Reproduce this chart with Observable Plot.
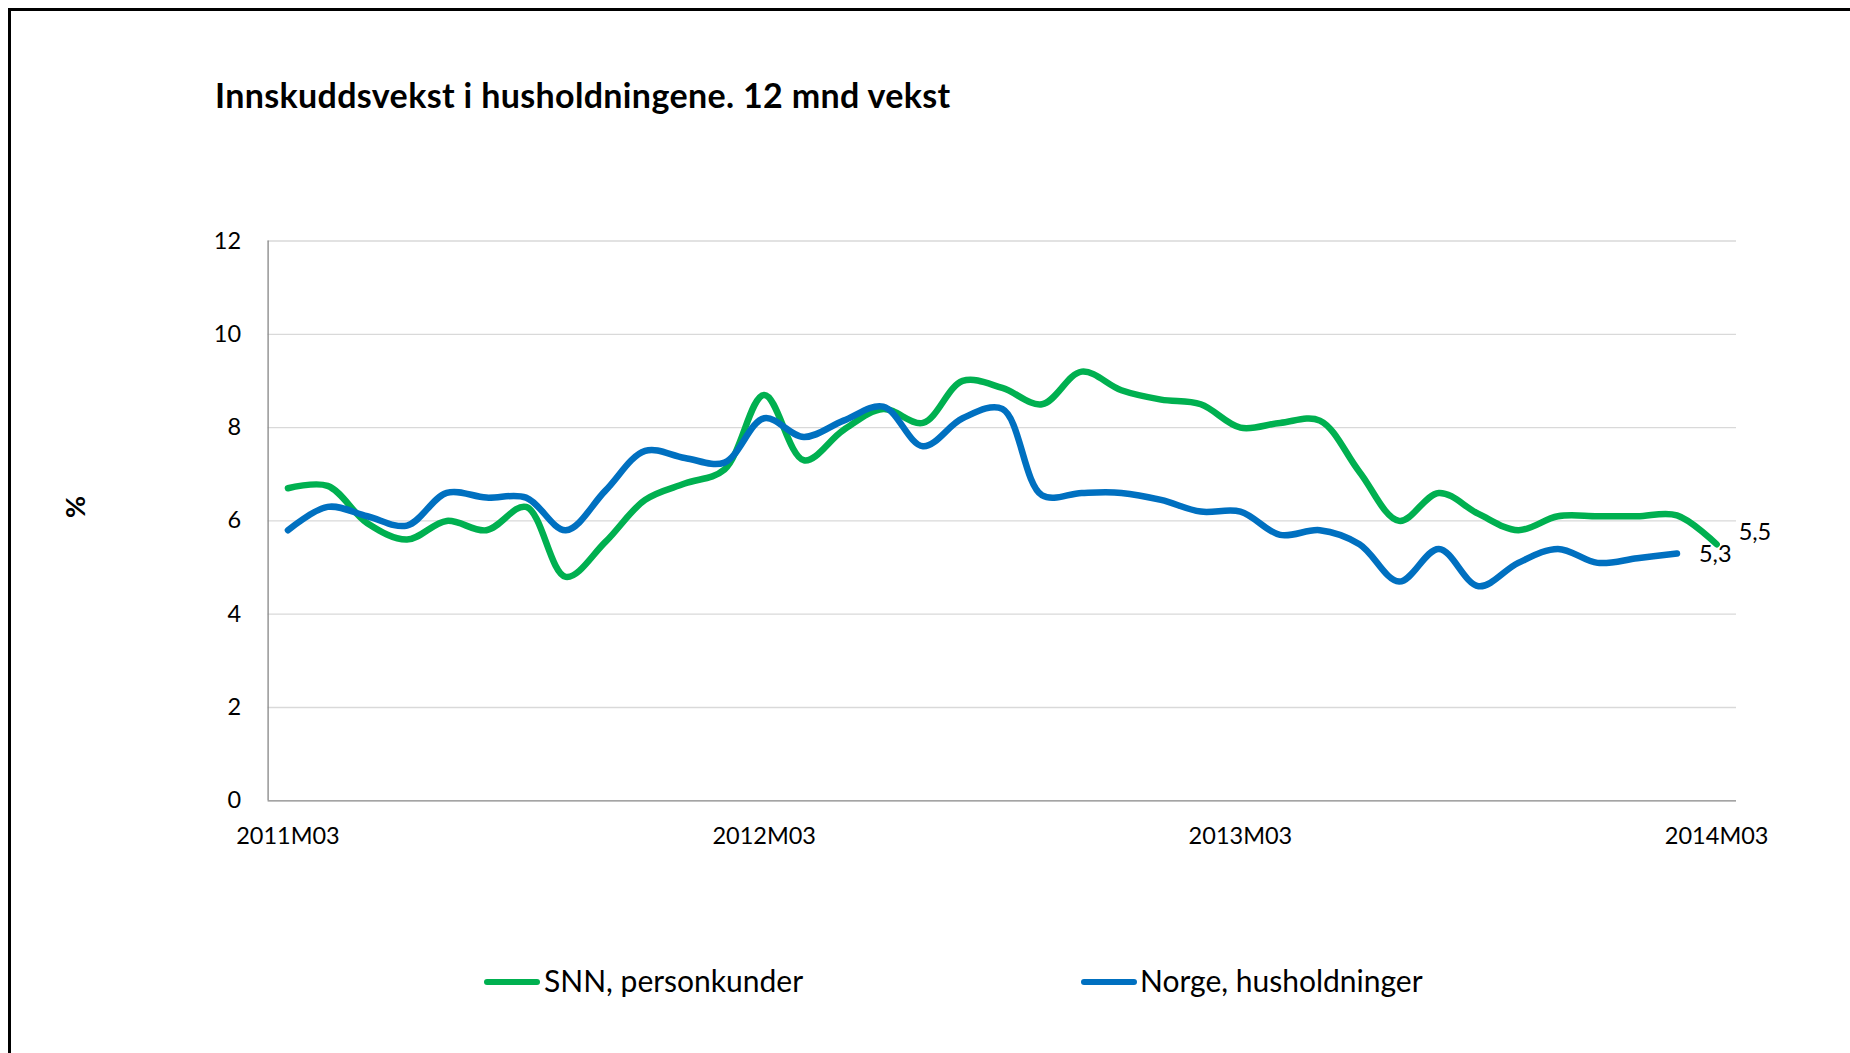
<!DOCTYPE html>
<html>
<head>
<meta charset="utf-8">
<script src="https://cdn.jsdelivr.net/npm/d3@7"></script>
<script src="https://cdn.jsdelivr.net/npm/@observablehq/plot@0.6"></script>
<style>
  html, body { margin: 0; padding: 0; background: #fff; width: 1850px; height: 1053px; overflow: hidden; }
  #page { position: relative; width: 1850px; height: 1053px; font-family: Lato, "Open Sans", sans-serif; color: #000; }
  #frame { position: absolute; left: 8px; top: 8px; width: 1900px; height: 1100px; border-top: 3px solid #000; border-left: 3px solid #000; pointer-events: none; }
  #title { position: absolute; left: 215px; top: 77.5px; font-size: 34px; line-height: 34px; font-weight: 700; letter-spacing: 0.35px; white-space: nowrap; }
  #ylabel { position: absolute; left: 74px; top: 507px; font-size: 27px; line-height: 27px; font-weight: 700; transform: translate(-50%, -50%) rotate(-90deg); }
  #chart { position: absolute; left: 0; top: 0; }
  .leg-swatch { position: absolute; height: 6.5px; border-radius: 3.25px; }
  .leg-text { position: absolute; font-size: 30px; line-height: 30px; white-space: nowrap; }
</style>
</head>
<body>
<div id="page">
  <div id="chart"></div>
  <div id="title">Innskuddsvekst i husholdningene. 12 mnd vekst</div>
  <div id="ylabel">%</div>
  <div id="legend"></div>
  <div id="frame"></div>
</div>
<script>
// ---- data ----
const months = [
  "2011M03","2011M04","2011M05","2011M06","2011M07","2011M08","2011M09","2011M10","2011M11","2011M12",
  "2012M01","2012M02","2012M03","2012M04","2012M05","2012M06","2012M07","2012M08","2012M09","2012M10",
  "2012M11","2012M12","2013M01","2013M02","2013M03","2013M04","2013M05","2013M06","2013M07","2013M08",
  "2013M09","2013M10","2013M11","2013M12","2014M01","2014M02","2014M03"
];
const seriesNames = ["SNN, personkunder", "Norge, husholdninger"];
const seriesColors = ["#00b050", "#0070c0"];
const snn = [
  6.7, 6.75, 5.95, 5.6, 6.0, 5.8, 6.3, 4.8, 5.55, 6.45,
  6.8, 7.1, 8.7, 7.3, 7.95, 8.4, 8.1, 9.0, 8.85, 8.5,
  9.2, 8.8, 8.6, 8.5, 8.0, 8.1, 8.15, 7.05, 6.0, 6.6,
  6.15, 5.8, 6.1, 6.1, 6.1, 6.12, 5.5
];
const norge = [
  5.8, 6.3, 6.1, 5.9, 6.6, 6.5, 6.5, 5.8, 6.65, 7.5,
  7.35, 7.25, 8.2, 7.8, 8.15, 8.45, 7.6, 8.2, 8.4, 6.55,
  6.6, 6.6, 6.45, 6.2, 6.2, 5.7, 5.8, 5.5, 4.7, 5.4,
  4.6, 5.1, 5.4, 5.1, 5.2, 5.3
];
const xTickLabels = ["2011M03", "2012M03", "2013M03", "2014M03"];
const yTicks = [0, 2, 4, 6, 8, 10, 12];

// ---- build ----
const toRows = (vals) => vals.map((v, i) => ({i, month: months[i], v}));
const rowsSnn = toRows(snn);
const rowsNorge = toRows(norge);
const lastSnn = [rowsSnn[rowsSnn.length - 1]];
const lastNorge = [rowsNorge[rowsNorge.length - 1]];
const fmt = v => v.toFixed(1).replace(".", ",");
const xTickIdx = xTickLabels.map(l => months.indexOf(l));

const chart = Plot.plot({
  width: 1850,
  height: 900,
  marginLeft: 267.6,
  marginRight: 114,
  marginTop: 240.5,
  marginBottom: 99.7,
  style: { fontFamily: "Lato, 'Open Sans', sans-serif", fontSize: "23.5px", color: "#000", background: "transparent" },
  x: {
    type: "linear",
    domain: [-0.5, months.length - 0.5],
    ticks: xTickIdx,
    tickFormat: i => months[i],
    tickSize: 0,
    tickPadding: 27,
    label: null
  },
  y: {
    domain: [0, 12],
    ticks: yTicks,
    tickSize: 0,
    tickPadding: 27,
    label: null
  },
  marks: [
    Plot.ruleY(yTicks.filter(t => t > 0), { stroke: "#d9d9d9", strokeWidth: 1.3 }),
    Plot.ruleY([0], { stroke: "#868686", strokeWidth: 1.3 }),
    Plot.ruleX([-0.5], { stroke: "#868686", strokeWidth: 1.3 }),
    Plot.line(rowsSnn, { x: "i", y: "v", stroke: seriesColors[0], strokeWidth: 6.5, curve: "catmull-rom", strokeLinecap: "round", strokeLinejoin: "round" }),
    Plot.line(rowsNorge, { x: "i", y: "v", stroke: seriesColors[1], strokeWidth: 6.5, curve: "catmull-rom", strokeLinecap: "round", strokeLinejoin: "round" }),
    Plot.text(lastSnn, { x: "i", y: "v", text: d => fmt(d.v), dx: 22, dy: -12, textAnchor: "start", fill: "#000", fontSize: 23.5 }),
    Plot.text(lastNorge, { x: "i", y: "v", text: d => fmt(d.v), dx: 22, dy: 1, textAnchor: "start", fill: "#000", fontSize: 23.5 })
  ]
});
document.getElementById("chart").appendChild(chart);

// ---- legend ----
const legend = document.getElementById("legend");
const legPos = [
  { swatchLeft: 484, swatchWidth: 56, textLeft: 544 },
  { swatchLeft: 1080.5, swatchWidth: 56, textLeft: 1140 }
];
seriesNames.forEach((name, k) => {
  const sw = document.createElement("div");
  sw.className = "leg-swatch";
  sw.style.left = legPos[k].swatchLeft + "px";
  sw.style.width = legPos[k].swatchWidth + "px";
  sw.style.top = "978.5px";
  sw.style.background = seriesColors[k];
  legend.appendChild(sw);
  const tx = document.createElement("div");
  tx.className = "leg-text";
  tx.style.left = legPos[k].textLeft + "px";
  tx.style.top = "965px";
  tx.textContent = name;
  legend.appendChild(tx);
});
</script>
</body>
</html>
